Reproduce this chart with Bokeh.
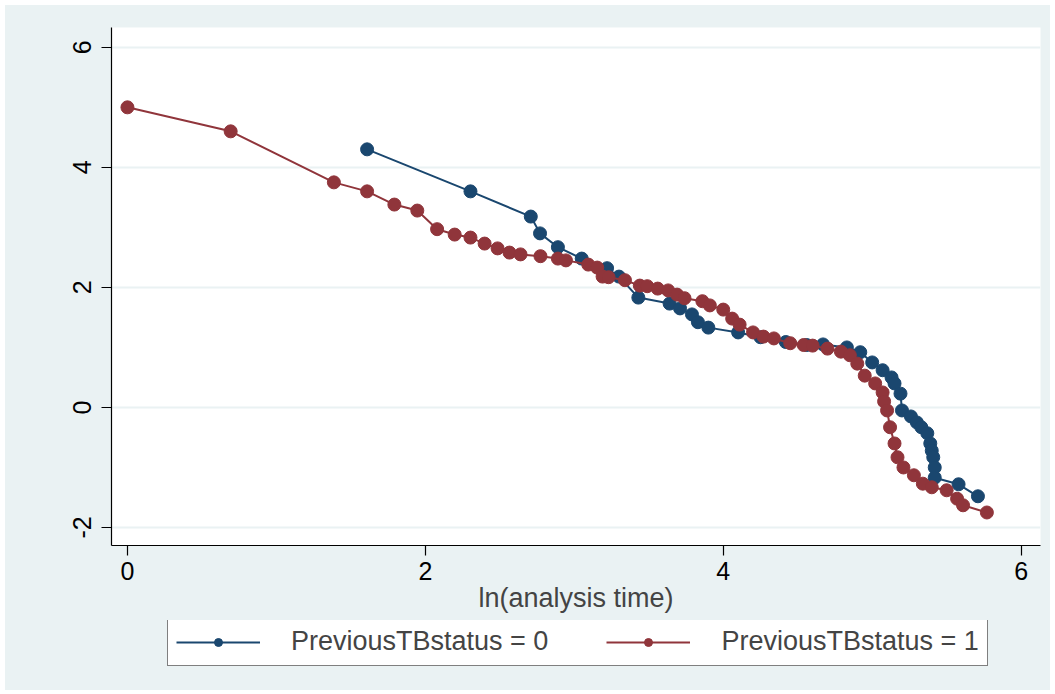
from bokeh.plotting import figure
from bokeh.models import Range1d, FixedTicker, Legend, LegendItem
from bokeh.layouts import column
from bokeh.embed import file_html
from bokeh.resources import INLINE

# PreviousTBstatus = 0
blue_x = [1.609, 2.303, 2.708, 2.77, 2.89, 3.05, 3.22, 3.30, 3.43, 3.64, 3.71, 3.79, 3.83, 3.90,
          4.10, 4.25, 4.42, 4.56, 4.67, 4.83, 4.92, 5.00, 5.07, 5.13, 5.15, 5.19, 5.20, 5.26,
          5.30, 5.33, 5.37, 5.39, 5.40, 5.41, 5.42, 5.42, 5.58, 5.71]
blue_y = [4.30, 3.60, 3.18, 2.90, 2.67, 2.48, 2.32, 2.18, 1.83, 1.73, 1.65, 1.55, 1.42, 1.33,
          1.25, 1.17, 1.09, 1.04, 1.05, 1.00, 0.92, 0.75, 0.62, 0.50, 0.40, 0.23, -0.05, -0.15,
          -0.25, -0.33, -0.43, -0.60, -0.72, -0.83, -1.00, -1.17, -1.28, -1.48]

# PreviousTBstatus = 1
red_x = [0.0, 0.693, 1.386, 1.609, 1.792, 1.946, 2.079, 2.197, 2.303, 2.398, 2.485, 2.565,
         2.639, 2.773, 2.890, 2.944, 3.094, 3.154, 3.19, 3.23, 3.34, 3.44, 3.49, 3.56, 3.63,
         3.69, 3.74, 3.86, 3.91, 4.00, 4.06, 4.11, 4.20, 4.27, 4.34, 4.45, 4.54, 4.60, 4.70,
         4.79, 4.85, 4.90, 4.95, 5.02, 5.07, 5.08, 5.10, 5.12, 5.15, 5.17, 5.21, 5.28, 5.34,
         5.40, 5.50, 5.57, 5.61, 5.77]
red_y = [5.00, 4.60, 3.75, 3.60, 3.38, 3.28, 2.97, 2.88, 2.83, 2.73, 2.65, 2.58,
         2.55, 2.52, 2.48, 2.45, 2.38, 2.33, 2.18, 2.17, 2.12, 2.03, 2.02, 1.98, 1.95,
         1.88, 1.82, 1.77, 1.70, 1.63, 1.48, 1.38, 1.25, 1.18, 1.15, 1.07, 1.04, 1.03, 0.98,
         0.93, 0.87, 0.73, 0.53, 0.40, 0.25, 0.10, -0.05, -0.33, -0.60, -0.83, -1.00, -1.13, -1.27,
         -1.33, -1.38, -1.52, -1.63, -1.75]

x_ticks = [0, 2, 4, 6]
y_ticks = [-2, 0, 2, 4, 6]
y_tick_labels = {-2: "-2", 0: "0", 2: "2", 4: "4", 6: "6"}
labels = ["PreviousTBstatus = 0", "PreviousTBstatus = 1"]
x_title = "ln(analysis time)"
BLUE = "#1A476F"
RED = "#90353B"
BG = "#EAF2F3"
FONT = "Liberation Sans"

p = figure(width=1045, height=615, output_backend="svg", toolbar_location=None,
           x_range=Range1d(-0.107, 6.13), y_range=Range1d(-2.3, 6.33),
           min_border_left=106, min_border_right=10, min_border_top=22, min_border_bottom=75)
p.background_fill_color = "white"
p.border_fill_color = BG
p.outline_line_color = None

p.line(blue_x, blue_y, color=BLUE, line_width=2)
p.scatter(blue_x, blue_y, size=13, color=BLUE)
p.line(red_x, red_y, color=RED, line_width=2)
p.scatter(red_x, red_y, size=13, color=RED)

p.xgrid.visible = False
p.ygrid.grid_line_color = BG
p.ygrid.grid_line_width = 2
p.ygrid.ticker = FixedTicker(ticks=y_ticks)

for ax in (p.xaxis[0], p.yaxis[0]):
    ax.axis_line_color = "black"
    ax.axis_line_width = 1.2
    ax.major_tick_line_color = "black"
    ax.major_tick_line_width = 1.2
    ax.major_tick_out = 10
    ax.major_tick_in = 0
    ax.minor_tick_line_color = None
    ax.major_label_text_font = FONT
    ax.major_label_text_font_size = "25px"
    ax.major_label_text_color = "black"

p.xaxis[0].ticker = FixedTicker(ticks=x_ticks)
p.yaxis[0].ticker = FixedTicker(ticks=y_ticks)
p.yaxis[0].major_label_overrides = y_tick_labels
p.yaxis[0].major_label_orientation = "vertical"
p.yaxis[0].major_label_standoff = 10
p.xaxis[0].major_label_standoff = 6
p.xaxis[0].axis_label = x_title
p.xaxis[0].axis_label_text_font = FONT
p.xaxis[0].axis_label_text_font_size = "27px"
p.xaxis[0].axis_label_text_font_style = "normal"
p.xaxis[0].axis_label_standoff = 0

# legend strip: a second figure; the series are drawn again here but lie outside
# its ranges, so only their legend glyphs show
q = figure(width=1045, height=70, output_backend="svg", toolbar_location=None,
           x_range=Range1d(100, 200), y_range=Range1d(100, 200),
           min_border=0)
q.axis.visible = False
q.grid.visible = False
q.outline_line_color = None
q.background_fill_color = BG
q.border_fill_color = BG
lb = q.line(blue_x, blue_y, color=BLUE, line_width=2)
sb = q.scatter(blue_x, blue_y, size=11, color=BLUE)
lr = q.line(red_x, red_y, color=RED, line_width=2)
sr = q.scatter(red_x, red_y, size=11, color=RED)

legend = Legend(items=[LegendItem(label=labels[0], renderers=[lb, sb]),
                       LegendItem(label=labels[1], renderers=[lr, sr])],
                orientation="horizontal", location=(56, 24),
                label_text_font=FONT, label_text_font_size="27px",
                glyph_width=84, glyph_height=20, spacing=58, padding=8,
                label_standoff=31, margin=0,
                border_line_color="black", border_line_width=1.3,
                background_fill_color="white", background_fill_alpha=1)
q.add_layout(legend, "center")

layout = column(p, q, spacing=0, margin=(5, 5, 4, 5),
                styles={"background-color": BG})
open("out.html", "w").write(file_html(layout, INLINE))
